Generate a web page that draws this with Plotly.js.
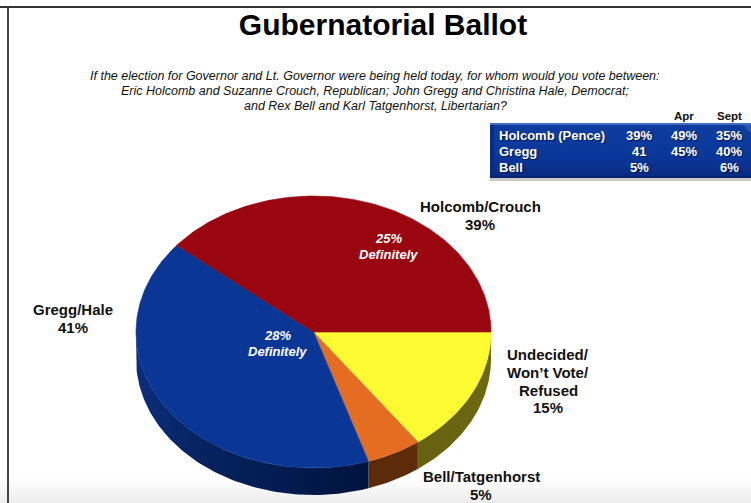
<!DOCTYPE html>
<html>
<head>
<meta charset="utf-8">
<script src="https://cdn.plot.ly/plotly-3.0.1.min.js"></script>
<style>html,body{margin:0;padding:0;background:#fff}#chart{width:751px;height:503px}</style>
</head>
<body>
<div id="chart"></div>
<script>
// Ballot shares, clockwise from 3 o'clock
const sliceNames = ["Undecided", "Bell/Tatgenhorst", "Gregg/Hale", "Holcomb/Crouch"];
const sliceValues = [15, 5, 41, 39];
const faceColors = ["#fffb33", "#e56d22", "#0a3796", "#9a0610"];
const wallScales = [
  [[0, "#66610f"], [1, "#6d6812"]],
  [[0, "#5a2a0a"], [1, "#5e2c0a"]],
  [[0, "#0b2e7c"], [0.3, "#06235f"], [0.7, "#001a4c"], [1, "#00143e"]],
  [[0, "#00143e"], [1, "#00143e"]]
];

// Trend table
const trendNames = ["Holcomb (Pence)", "Gregg", "Bell"];
const trendCurrent = ["39%", "41", "5%"];
const trendApr = ["49%", "45%", ""];
const trendSept = ["35%", "40%", "6%"];
const trendHeaders = ["Apr", "Sept"];

const questionLines = [
  "If the election for Governor and Lt. Governor were being held today, for whom would you vote between:",
  "Eric Holcomb and Suzanne Crouch, Republican; John Gregg and Christina Hale, Democrat;",
  "and Rex Bell and Karl Tatgenhorst, Libertarian?"
];

// Tilted pie geometry, in page units
const cx = 313.5, cy = 332, rx = 177.5, ry = 136, depth = 27;
const px = a => cx + rx * Math.cos(a * Math.PI / 180);
const py = a => cy + ry * Math.sin(a * Math.PI / 180);

function arc(a0, a1, dy) {
  const n = Math.max(2, Math.ceil(Math.abs(a1 - a0)));
  const xs = [], ys = [];
  for (let i = 0; i <= n; i++) {
    const a = a0 + (a1 - a0) * i / n;
    xs.push(px(a));
    ys.push(py(a) + dy);
  }
  return [xs, ys];
}

const poly = (xs, ys, extra) => Object.assign({
  type: "scatter", mode: "lines", x: xs, y: ys, fill: "toself",
  hoverinfo: "skip", showlegend: false, line: {width: 0}
}, extra);

function rect(x0, y0, x1, y1, extra) {
  return poly([x0, x1, x1, x0, x0], [y0, y0, y1, y1, y0], extra);
}

const traces = [];

// Page edge: fading band along the bottom, frame along top and left
traces.push(rect(0, 478, 751, 503, {fillcolor: "#eee", fillgradient: {type: "vertical", colorscale: [[0, "#ececec"], [1, "#ffffff"]]}}));
traces.push(rect(0, 6, 751, 8, {fillcolor: "#333"}));
traces.push(rect(7, 6, 9, 503, {fillcolor: "#444"}));

// Side walls of the front half, then the top faces
const total = sliceValues.reduce((s, v) => s + v, 0);
let start = 0;
const spans = sliceValues.map(v => {
  const sweep = v / total * 360;
  const span = [start, start + sweep];
  start += sweep;
  return span;
});

spans.forEach((span, i) => {
  const a0 = span[0], a1 = Math.min(span[1], 180);
  if (a0 >= 180) return;
  const top = arc(a0, a1, 0), low = arc(a1, a0, depth);
  traces.push(poly(top[0].concat(low[0]), top[1].concat(low[1]), {
    fillcolor: wallScales[i][0][1],
    fillgradient: {type: "horizontal", colorscale: wallScales[i]}
  }));
});

spans.forEach((span, i) => {
  const edge = arc(span[0], span[1], 0);
  traces.push(poly([cx].concat(edge[0], cx), [cy].concat(edge[1], cy), {
    fillcolor: faceColors[i],
    line: {width: 0.6, color: faceColors[i]},
    name: sliceNames[i]
  }));
});

// Trend table panel
traces.push(rect(490, 126, 751, 181, {fillcolor: "rgba(120,120,120,0.4)"}));
traces.push(rect(490, 123, 751, 178, {
  fillcolor: "#0a3a9e",
  fillgradient: {type: "vertical", colorscale: [[0, "#072a80"], [0.4, "#0a379a"], [1, "#0d3c9f"]]}
}));
traces.push(rect(490, 123, 751, 125, {fillcolor: "#3f6cc0"}));
traces.push(rect(490, 176, 751, 178, {fillcolor: "#062470"}));
traces.push(rect(490, 125, 494, 176, {fillcolor: "#082d84"}));
traces.push(poly([751, 743, 751, 751], [125, 125, 133, 125], {fillcolor: "#2a58b0"}));

const ann = (text, x, y, size, color, extra) => Object.assign({
  text, x, y, xref: "x", yref: "y", showarrow: false,
  xanchor: "center", yanchor: "middle",
  font: {family: "Liberation Sans, Arial, sans-serif", size, color}
}, extra);
const bold = s => "<b>" + s + "</b>";
const ital = s => "<i>" + s + "</i>";

const annotations = [];

// Question wording
questionLines.forEach((line, i) => {
  annotations.push(ann(ital(line), 375, [76, 91, 106][i], 12.5, "#111"));
});

// Table headers and rows
trendHeaders.forEach((h, i) => annotations.push(ann(bold(h), [684, 729][i], 116, 11.5, "#111")));
const rowY = [135, 151, 167];
trendNames.forEach((name, i) => {
  const white = "#ffffff";
  const glow = {font: {family: "Liberation Sans, Arial, sans-serif", size: 13, color: white, shadow: "1px 1px 1px rgba(0,0,20,0.6)"}};
  annotations.push(ann(bold(name), 497, rowY[i], 13, white, Object.assign({xanchor: "left"}, glow)));
  annotations.push(ann(bold(trendCurrent[i]), 639, rowY[i], 13, white, glow));
  if (trendApr[i]) annotations.push(ann(bold(trendApr[i]), 684, rowY[i], 13, white, glow));
  annotations.push(ann(bold(trendSept[i]), 729, rowY[i], 13, white, glow));
});

// Slice labels
[["Holcomb/Crouch", 480, 206], ["39%", 480, 224],
 ["Gregg/Hale", 73, 309], ["41%", 73, 327],
 ["Undecided/", 548, 354], ["Won\u2019t Vote/", 548, 372], ["Refused", 548, 390], ["15%", 548, 407],
 ["Bell/Tatgenhorst", 481, 476], ["5%", 481, 494]
].forEach(l => annotations.push(ann(bold(l[0]), l[1], l[2], 15, "#111")));

[["25%", 388, 238], ["Definitely", 388, 254], ["28%", 277, 335], ["Definitely", 277, 351]]
  .forEach(l => annotations.push(ann(bold(ital(l[0])), l[1], l[2], 13, "#fff")));

const layout = {
  width: 751, height: 503,
  margin: {l: 0, r: 0, t: 0, b: 0},
  paper_bgcolor: "#fff", plot_bgcolor: "#fff",
  showlegend: false,
  title: {
    text: "<b>Gubernatorial Ballot</b>",
    x: 383 / 751, xanchor: "center", y: 1 - 24 / 503, yanchor: "middle",
    font: {family: "Liberation Sans, Arial, sans-serif", size: 30, color: "#000"}
  },
  xaxis: {visible: false, range: [0, 751], fixedrange: true},
  yaxis: {visible: false, range: [503, 0], fixedrange: true},
  annotations
};

Plotly.newPlot("chart", traces, layout, {displayModeBar: false});
</script>
</body>
</html>
